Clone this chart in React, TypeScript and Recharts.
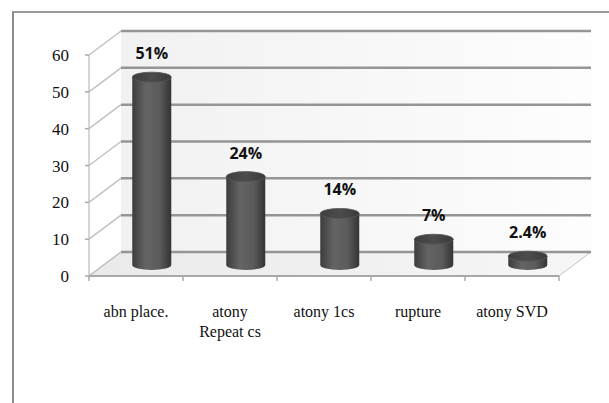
import { BarChart, Bar, XAxis, YAxis, CartesianGrid, LabelList } from 'recharts';

const causes = ['abn place.', 'atony\nRepeat cs', 'atony 1cs', 'rupture', 'atony SVD'];
const percents = [51, 24, 14, 7, 2.4];
const percentLabels = ['51%', '24%', '14%', '7%', '2.4%'];
const yTicks = [0, 10, 20, 30, 40, 50, 60];

const data = causes.map((cause, i) => ({ cause, value: percents[i], label: percentLabels[i] }));

// offset of the back wall from the front plane (fake 3-D box)
const DX = 32;
const DY = -24;

// back wall + floor, drawn once under the first grid line
function Walls({ x, y, width, height }: { x: number; y: number; width: number; height: number }) {
  const bottom = y + height;
  return (
    <g>
      <defs>
        <linearGradient id="wallFill" x1="0" y1="0" x2="1" y2="0">
          <stop offset="0%" stopColor="#f1f1f1" />
          <stop offset="100%" stopColor="#fdfdfd" />
        </linearGradient>
        <linearGradient id="floorFill" x1="0" y1="0" x2="1" y2="0">
          <stop offset="0%" stopColor="#eaeaea" />
          <stop offset="100%" stopColor="#f6f6f6" />
        </linearGradient>
      </defs>
      <rect x={x + DX} y={y + DY} width={width} height={height} fill="url(#wallFill)" />
      <polygon
        points={`${x},${bottom} ${x + width},${bottom} ${x + width + DX},${bottom + DY} ${x + DX},${bottom + DY}`}
        fill="url(#floorFill)"
        stroke="#c4c4c4"
        strokeWidth={1}
      />
      <line x1={x} y1={y} x2={x} y2={bottom} stroke="#c8c8c8" strokeWidth={1.5} />
    </g>
  );
}

function GridLine(props: any) {
  const { x1, y1, x2, x, y, width, height, index } = props;
  return (
    <g>
      {index === 0 && <Walls x={x} y={y} width={width} height={height} />}
      <path d={`M${x1},${y1} L${x1 + DX},${y1 + DY}`} stroke="#c2c2c2" strokeWidth={1.5} fill="none" />
      <path d={`M${x1 + DX},${y1 + DY} L${x2 + DX},${y1 + DY}`} stroke="#959595" strokeWidth={2.5} fill="none" />
    </g>
  );
}

function Cylinder(props: any) {
  const { x, y, width, height, index } = props;
  const rx = width / 2;
  const ry = 5;
  const cx = x + rx + DX / 2;
  const top = y + DY / 2 + 1;
  const bottom = y + height + DY / 2 + 1;
  const id = `cyl${index}`;
  return (
    <g>
      <defs>
        <linearGradient id={`${id}body`} x1="0" y1="0" x2="1" y2="0">
          <stop offset="0%" stopColor="#3c3c3c" />
          <stop offset="35%" stopColor="#646464" />
          <stop offset="70%" stopColor="#5b5b5b" />
          <stop offset="100%" stopColor="#343434" />
        </linearGradient>
        <linearGradient id={`${id}top`} x1="0" y1="0" x2="1" y2="0">
          <stop offset="0%" stopColor="#3e3e3e" />
          <stop offset="50%" stopColor="#4c4c4c" />
          <stop offset="100%" stopColor="#3a3a3a" />
        </linearGradient>
      </defs>
      <path
        d={`M${cx - rx},${top} L${cx - rx},${bottom} A${rx},${ry} 0 0 0 ${cx + rx},${bottom} L${cx + rx},${top} Z`}
        fill={`url(#${id}body)`}
      />
      <ellipse cx={cx} cy={top} rx={rx} ry={ry} fill={`url(#${id}top)`} stroke="#555" strokeWidth={0.8} />
    </g>
  );
}

function PercentLabel(props: any) {
  const { x, y, width, value } = props;
  return (
    <text
      x={x + width / 2 + DX / 2}
      y={y + DY / 2 - 17}
      textAnchor="middle"
      fontFamily="'Open Sans', sans-serif"
      fontWeight="bold"
      fontSize={16}
      fill="#111"
    >
      {value}
    </text>
  );
}

function CauseTick(props: any) {
  const { x, y, payload, index, visibleTicksCount } = props;
  const lines = String(payload.value).split('\n');
  const half = payload.offset ?? 0;
  return (
    <g>
      <line x1={x - half} y1={y - 8} x2={x - half} y2={y - 3} stroke="#aaa" strokeWidth={1.5} />
      {index === visibleTicksCount - 1 && (
        <line x1={x + half} y1={y - 8} x2={x + half} y2={y - 3} stroke="#aaa" strokeWidth={1.5} />
      )}
      <text x={x} y={y + 33} textAnchor="middle" fontFamily="'Liberation Serif', serif" fontSize={16} fill="#111">
        {lines.map((line, i) => (
          <tspan key={i} x={x} dy={i === 0 ? 0 : 20}>
            {line}
          </tspan>
        ))}
      </text>
    </g>
  );
}

function ValueTick(props: any) {
  const { x, y, payload } = props;
  return (
    <text x={x} y={y + 6} textAnchor="end" fontFamily="'Liberation Serif', serif" fontSize={17} fill="#111">
      {payload.value}
    </text>
  );
}

export default function App() {
  return (
    <div style={{ position: 'absolute', left: 0, top: 0, width: 609, height: 403, background: '#fff', overflow: 'hidden' }}>
      <div
        style={{
          position: 'absolute',
          left: 12,
          top: 11,
          width: 620,
          height: 420,
          borderLeft: '2px solid #8c8c8c',
          borderTop: '2px solid #9a9a9a',
        }}
      />
      <div style={{ position: 'absolute', left: 0, top: 0 }}>
        <BarChart
          width={609}
          height={403}
          data={data}
          margin={{ top: 55, right: 50, bottom: 67, left: 29 }}
          barCategoryGap="29%"
        >
          <CartesianGrid vertical={false} horizontal={<GridLine />} />
          <XAxis
            dataKey="cause"
            height={60}
            axisLine={{ stroke: '#a8a8a8', strokeWidth: 2 }}
            tickLine={false}
            interval={0}
            tick={<CauseTick />}
          />
          <YAxis
            width={60}
            domain={[0, 60]}
            ticks={yTicks}
            axisLine={false}
            tickLine={{ stroke: '#aaa', strokeWidth: 1.5 }}
            tickSize={4}
            tickMargin={16}
            tick={<ValueTick />}
          />
          <Bar dataKey="value" shape={<Cylinder />} isAnimationActive={false}>
            <LabelList dataKey="label" content={<PercentLabel />} />
          </Bar>
        </BarChart>
      </div>
    </div>
  );
}
